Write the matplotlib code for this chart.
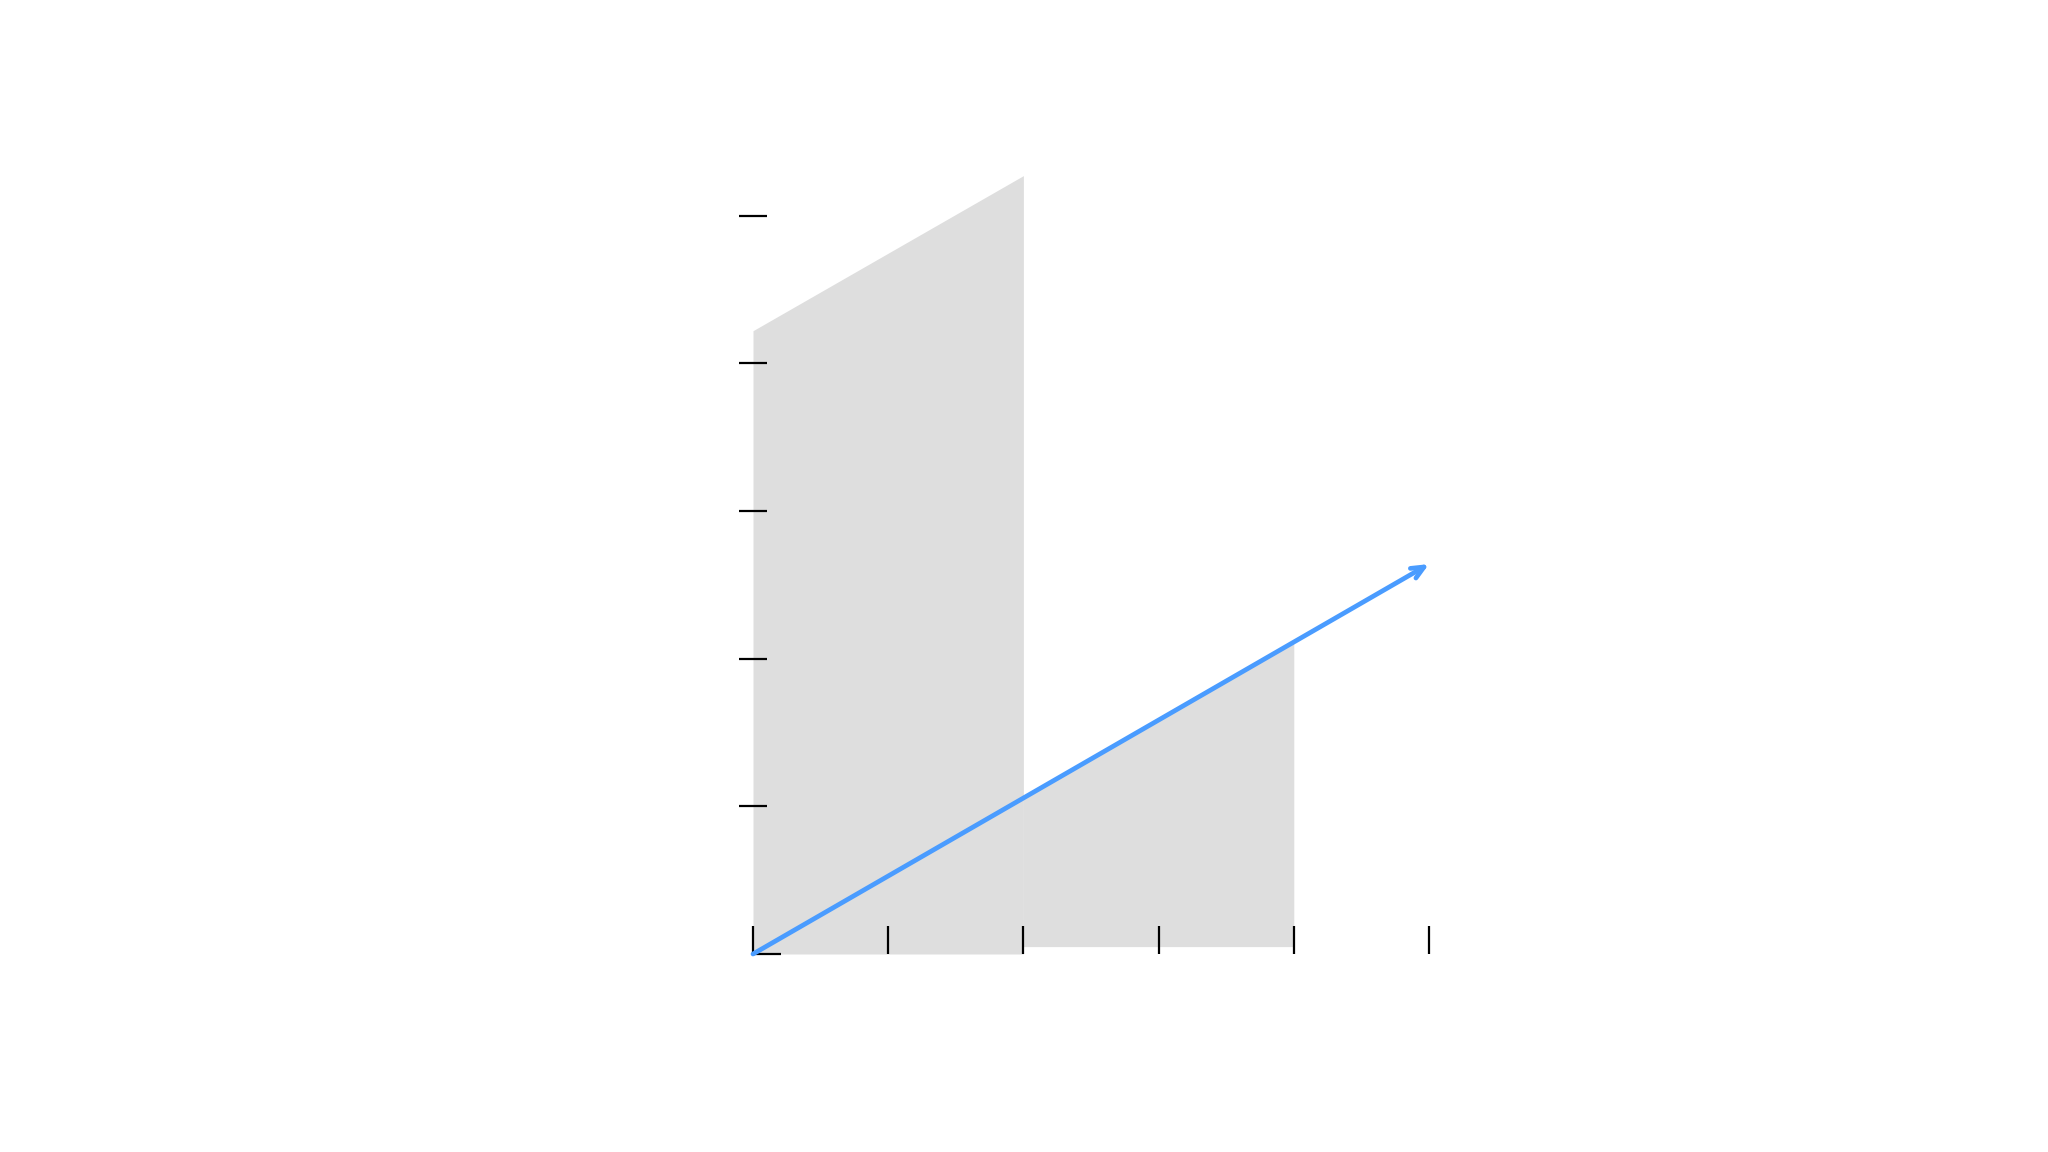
import matplotlib
matplotlib.use('Agg')
import matplotlib.pyplot as plt
from matplotlib import markers

# data
x_left = [0, 2]
top_left = [4.22, 5.27]
bottom_left = [0, 0]

x_right = [2, 4]
top_right = [1.06, 2.11]
bottom_right = [0.05, 0.05]

arrow_start = (0, 0)
arrow_end = (5, 2.64)

xticks = [0, 1, 2, 3, 4, 5]
yticks = [0, 1, 2, 3, 4, 5]

fig = plt.figure(figsize=(10.24, 5.76), dpi=200)
ax = fig.add_axes([753/2048, 1-954/1152, (1429-753)/2048, 5.5*147.7/1152])

ax.fill_between(x_left, bottom_left, top_left, color='#dedede', lw=0)
ax.fill_between(x_right, bottom_right, top_right, color='#dedede', lw=0)

ax.annotate('', xy=arrow_end, xytext=arrow_start,
            arrowprops=dict(arrowstyle='->,head_length=0.45,head_width=0.2',
                            color='#4a9cff', lw=1.7, shrinkA=0, shrinkB=0))

ax.set_xlim(0, 5)
ax.set_ylim(0, 5.5)
ax.set_xticks(xticks)
ax.set_yticks(yticks)
ax.set_xticklabels([])
ax.set_yticklabels([])
ax.tick_params(axis='x', direction='in', length=10, width=0.8, color='black')
ax.tick_params(axis='y', direction='inout', length=10.4, width=0.8, color='black')

# bottom y tick only points right
t0 = ax.yaxis.get_major_ticks()[0]
t0.tick1line.set_marker(markers.TICKRIGHT)
t0.tick1line.set_markersize(10)

for s in ax.spines.values():
    s.set_visible(False)
ax.patch.set_alpha(0)

fig.savefig('out.png', dpi=200)
